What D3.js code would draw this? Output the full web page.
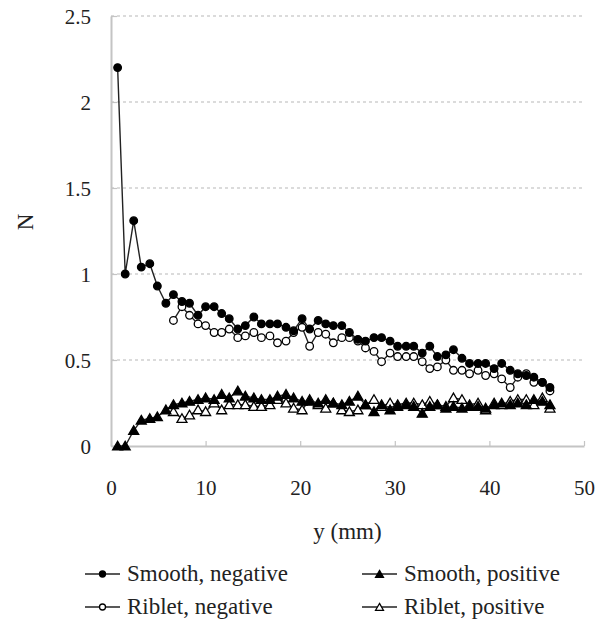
<!DOCTYPE html>
<html>
<head>
<meta charset="utf-8">
<script src="https://cdn.jsdelivr.net/npm/d3@7"></script>
<style>
  body { margin: 0; background: #fff; }
  svg { display: block; font-family: "Liberation Serif", "Times New Roman", serif; }
</style>
</head>
<body>
<script>
// sample positions (mm)
const yPositions = [0.7, 1.5, 2.4, 3.2, 4.1, 4.9, 5.8, 6.6, 7.5, 8.3, 9.2, 10.0, 10.9, 11.7, 12.5, 13.4, 14.2,
    15.1, 15.9, 16.8, 17.6, 18.5, 19.3, 20.2, 21.0, 21.9, 22.7, 23.5, 24.4, 25.2, 26.1, 26.9, 27.8, 28.6,
    29.5, 30.3, 31.2, 32.0, 32.9, 33.7, 34.5, 35.4, 36.2, 37.1, 37.9, 38.8, 39.6, 40.5, 41.3, 42.2, 43.0,
    43.9, 44.7, 45.6, 46.4];

const smoothNegative = [2.20, 1.00, 1.31, 1.04, 1.06, 0.93, 0.83, 0.88, 0.84, 0.83, 0.76, 0.81, 0.81, 0.77,
    0.74, 0.68, 0.70, 0.75, 0.71, 0.71, 0.71, 0.69, 0.67, 0.74, 0.68, 0.73, 0.71, 0.70, 0.70, 0.66, 0.62,
    0.61, 0.63, 0.63, 0.61, 0.58, 0.58, 0.58, 0.54, 0.58, 0.52, 0.53, 0.56, 0.51, 0.48, 0.48, 0.48, 0.45,
    0.48, 0.44, 0.42, 0.41, 0.40, 0.37, 0.34];

const smoothPositive = [0.00, 0.00, 0.09, 0.15, 0.16, 0.17, 0.21, 0.24, 0.25, 0.26, 0.27, 0.28, 0.27, 0.30,
    0.28, 0.32, 0.29, 0.28, 0.27, 0.27, 0.29, 0.30, 0.28, 0.26, 0.26, 0.25, 0.27, 0.25, 0.24, 0.26, 0.29,
    0.24, 0.20, 0.24, 0.21, 0.23, 0.24, 0.23, 0.19, 0.23, 0.24, 0.22, 0.23, 0.22, 0.23, 0.23, 0.22, 0.24,
    0.25, 0.24, 0.25, 0.24, 0.27, 0.26, 0.24];

// riblet series start at 6.6 mm
const ribletNegative = [null, null, null, null, null, null, null, 0.73, 0.81, 0.76, 0.71, 0.70, 0.66, 0.66,
    0.68, 0.63, 0.64, 0.66, 0.63, 0.64, 0.60, 0.61, 0.66, 0.69, 0.58, 0.66, 0.65, 0.60, 0.63, 0.63, 0.61,
    0.57, 0.55, 0.49, 0.54, 0.52, 0.52, 0.52, 0.49, 0.45, 0.46, 0.50, 0.44, 0.44, 0.42, 0.44, 0.41, 0.42,
    0.39, 0.34, 0.40, 0.42, 0.37, 0.37, 0.32];

const ribletPositive = [null, null, null, null, null, null, null, 0.20, 0.16, 0.18, 0.21, 0.20, 0.25, 0.21,
    0.24, 0.24, 0.24, 0.23, 0.23, 0.24, 0.27, 0.25, 0.22, 0.21, 0.27, 0.24, 0.22, 0.25, 0.21, 0.20, 0.21,
    0.24, 0.27, 0.23, 0.25, 0.24, 0.25, 0.25, 0.24, 0.26, 0.24, 0.23, 0.28, 0.27, 0.24, 0.25, 0.21, 0.25,
    0.24, 0.26, 0.27, 0.27, 0.24, 0.28, 0.22];

const xTicks = [0, 10, 20, 30, 40, 50];
const yTicks = [0, 0.5, 1, 1.5, 2, 2.5];

const seriesList = [
    { name: "Smooth, negative", values: smoothNegative, shape: "circle", filled: true },
    { name: "Smooth, positive", values: smoothPositive, shape: "triangle", filled: true },
    { name: "Riblet, negative", values: ribletNegative, shape: "circle", filled: false },
    { name: "Riblet, positive", values: ribletPositive, shape: "triangle", filled: false }
];

const width = 608, height = 630;
const margin = { top: 16, right: 24, bottom: 184, left: 111 };
const plotW = width - margin.left - margin.right;
const plotH = height - margin.top - margin.bottom;

const svg = d3.select("body").append("svg")
    .attr("width", width)
    .attr("height", height);

const g = svg.append("g")
    .attr("transform", `translate(${margin.left},${margin.top})`);

const x = d3.scaleLinear().domain([0, 50]).range([0, plotW]);
const y = d3.scaleLinear().domain([0, 2.5]).range([plotH, 0]);

// dashed gridlines
g.append("g")
    .selectAll("line")
    .data(yTicks.filter(d => d > 0))
    .enter().append("line")
    .attr("x1", 0)
    .attr("x2", plotW)
    .attr("y1", d => y(d))
    .attr("y2", d => y(d))
    .attr("stroke", "#b8b8b8")
    .attr("stroke-width", 1.2)
    .attr("stroke-dasharray", "3,3");

// axes
const xAxis = g.append("g")
    .attr("transform", `translate(0,${plotH})`)
    .call(d3.axisBottom(x).tickValues(xTicks).tickSizeInner(-5).tickSizeOuter(0).tickPadding(34));
const yAxis = g.append("g")
    .call(d3.axisLeft(y).tickValues(yTicks).tickSizeInner(-6).tickSizeOuter(0).tickPadding(20)
        .tickFormat(d3.format("")));

[xAxis, yAxis].forEach(ax => {
    ax.select(".domain").attr("stroke", "#c4c4c4").attr("stroke-width", 2);
    ax.selectAll(".tick line").attr("stroke", "#c4c4c4").attr("stroke-width", 1.2);
    ax.selectAll(".tick text")
        .attr("fill", "#222")
        .style("font-size", "21px")
        .style("font-family", "'Liberation Serif', serif");
});
yAxis.selectAll(".tick text").attr("dy", "0.36em");

// axis titles
svg.append("text")
    .attr("x", margin.left + plotW / 2)
    .attr("y", 539)
    .attr("text-anchor", "middle")
    .attr("fill", "#222")
    .style("font-size", "23px")
    .text("y (mm)");

svg.append("text")
    .attr("transform", "translate(33,222) rotate(-90)")
    .attr("text-anchor", "middle")
    .attr("fill", "#222")
    .style("font-size", "23px")
    .text("N");

const triangle = d3.symbol().type(d3.symbolTriangle).size(44);

function drawMarker(sel, s, cx, cy, r = 3.8) {
    if (s.shape === "circle") {
        sel.append("circle")
            .attr("cx", cx).attr("cy", cy).attr("r", r)
            .attr("fill", s.filled ? "#000" : "#fff")
            .attr("stroke", "#000")
            .attr("stroke-width", 1.3);
    } else {
        sel.append("path")
            .attr("d", d3.symbol().type(d3.symbolTriangle).size(r * r * 3)())
            .attr("transform", `translate(${cx},${cy + 1})`)
            .attr("fill", s.filled ? "#000" : "#fff")
            .attr("stroke", "#000")
            .attr("stroke-width", 1.3);
    }
}

const line = d3.line()
    .defined(d => d[1] !== null)
    .x(d => x(d[0]))
    .y(d => y(d[1]));

// draw open series first so filled ones sit on top as in the original
const drawOrder = [seriesList[2], seriesList[3], seriesList[0], seriesList[1]];
drawOrder.forEach(s => {
    const pts = yPositions.map((p, i) => [p, s.values[i]]);
    const sg = g.append("g");
    sg.append("path")
        .attr("d", line(pts))
        .attr("fill", "none")
        .attr("stroke", "#222")
        .attr("stroke-width", 1.4);
    pts.filter(d => d[1] !== null).forEach(d => drawMarker(sg, s, x(d[0]), y(d[1])));
});

// legend
const legendPos = [
    { lx: 85, ly: 574 },
    { lx: 362, ly: 574 },
    { lx: 85, ly: 607 },
    { lx: 362, ly: 607 }
];
seriesList.forEach((s, i) => {
    const p = legendPos[i];
    const lg = svg.append("g");
    lg.append("line")
        .attr("x1", p.lx).attr("x2", p.lx + 35)
        .attr("y1", p.ly).attr("y2", p.ly)
        .attr("stroke", "#222")
        .attr("stroke-width", 1.4);
    drawMarker(lg, s, p.lx + 17.5, p.ly, 3);
    lg.append("text")
        .attr("x", p.lx + 42)
        .attr("y", p.ly + 7)
        .attr("fill", "#222")
        .style("font-size", "23px")
        .text(s.name);
});
</script>
</body>
</html>
